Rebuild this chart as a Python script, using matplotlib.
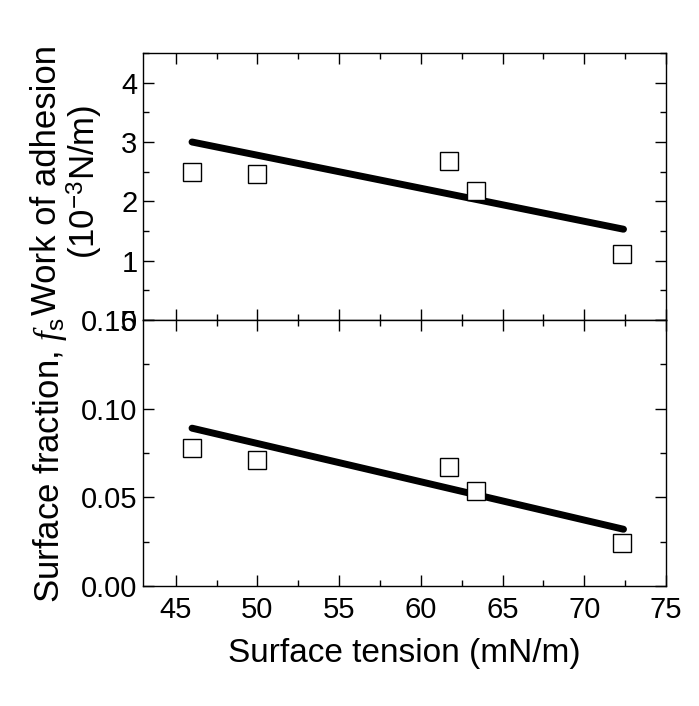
import numpy as np
import matplotlib
matplotlib.use('Agg')
import matplotlib.pyplot as plt
from matplotlib.ticker import MultipleLocator

plt.rcParams['font.family'] = ['Liberation Sans', 'DejaVu Sans']
plt.rcParams['mathtext.fontset'] = 'custom'
plt.rcParams['mathtext.rm'] = 'Liberation Sans'
plt.rcParams['mathtext.it'] = 'Liberation Serif:italic'

# measured points
tension = [46.0, 50.0, 61.7, 63.4, 72.3]
work_adh = [2.50, 2.46, 2.68, 2.17, 1.11]
frac_s = [0.078, 0.0713, 0.067, 0.0534, 0.0242]

# fitted lines
fit_x = [46.0, 72.4]
fit_work = [3.0, 1.53]
fit_frac = [0.089, 0.032]

fig = plt.figure(figsize=(6.99, 7.06), dpi=100)
ax1 = fig.add_axes([143/699, 1-320/706, 523/699, 267/706])
ax2 = fig.add_axes([143/699, 1-586/706, 523/699, 266/706], sharex=ax1)

for ax in (ax1, ax2):
	ax.tick_params(which='both', direction='in', top=True, right=True, labelsize=21, width=1)
	ax.tick_params(which='major', length=8)
	ax.tick_params(which='minor', length=4)
	ax.tick_params(axis='y', pad=4)
	ax.tick_params(axis='x', pad=7)
	for sp in ax.spines.values():
		sp.set_linewidth(1)

ax1.plot(fit_x, fit_work, color='black', lw=5, solid_capstyle='round')
ax1.plot(tension, work_adh, 's', ms=13, mfc='white', mec='black', mew=1)
ax1.set_ylim(0, 4.5)
ax1.yaxis.set_minor_locator(MultipleLocator(0.5))
ax1.tick_params(labelbottom=False)
ax1.set_yticks([0, 1, 2, 3, 4])
ax1.set_yticklabels(['0', '1', '2', '3', '4'])

ax2.plot(fit_x, fit_frac, color='black', lw=5, solid_capstyle='round')
ax2.plot(tension, frac_s, 's', ms=13, mfc='white', mec='black', mew=1)
ax2.set_ylim(0, 0.15)
ax2.set_yticks([0, 0.05, 0.10, 0.15])
ax2.set_yticklabels(['0.00', '0.05', '0.10', '0.15'])
ax2.yaxis.set_minor_locator(MultipleLocator(0.025))

ax2.set_xlim(43, 75)
ax2.xaxis.set_major_locator(MultipleLocator(5))
ax2.xaxis.set_minor_locator(MultipleLocator(2.5))
ax2.set_xlabel('Surface tension (mN/m)', fontsize=24, labelpad=10)

# y labels placed in figure pixels
fig.text(47/699, 1-180/706, 'Work of adhesion', fontsize=25, rotation=90, ha='center', va='center')
fig.text(85/699, 1-182/706, '(10$^{-3}$N/m)', fontsize=25, rotation=90, ha='center', va='center')
fig.text(50/699, 1-460/706, 'Surface fraction, $\\mathit{f}_{\\rm s}$', fontsize=25, rotation=90, ha='center', va='center')

fig.savefig('out.png', dpi=100)
